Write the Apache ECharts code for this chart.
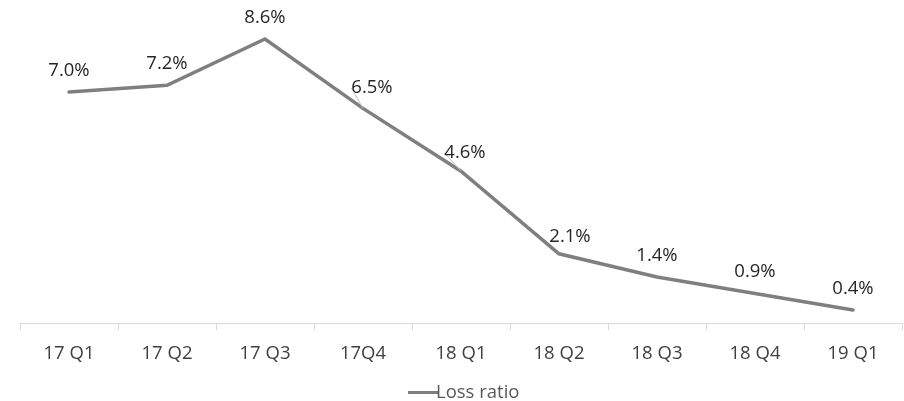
<!DOCTYPE html>
<html>
<head>
<meta charset="utf-8">
<script src="https://cdn.jsdelivr.net/npm/echarts@6/dist/echarts.min.js"></script>
<style>
  html, body { margin: 0; padding: 0; background: #ffffff; }
  #chart { width: 904px; height: 401px; }
</style>
</head>
<body>
<div id="chart"></div>
<script>
// Quarterly loss ratio, in percent
const quarters = ['17 Q1', '17 Q2', '17 Q3', '17Q4', '18 Q1', '18 Q2', '18 Q3', '18 Q4', '19 Q1'];
const lossRatio = [7.0, 7.2, 8.6, 6.5, 4.6, 2.1, 1.4, 0.9, 0.4];

// Labels that sit slightly to the right of their point: index -> [dx, dy]
const labelShift = { 3: [9, 1], 4: [4, 3], 5: [11, 4] };
// Points whose shifted labels get a short guide line
const guided = [3, 4];

const FONT = '"Open Sans", "Noto Sans", sans-serif';

const seriesData = lossRatio.map(function (v, i) {
  const item = { value: v };
  if (guided.indexOf(i) >= 0) {
    item.labelLine = { show: true, lineStyle: { color: '#bfbfbf', width: 1 } };
  }
  return item;
});

const chart = echarts.init(document.getElementById('chart'), null, { renderer: 'canvas' });
chart.setOption({
  animation: false,
  backgroundColor: '#ffffff',
  grid: { left: 20, right: 2, top: 25.8, bottom: 77.8, containLabel: false },
  xAxis: {
    type: 'category',
    data: quarters,
    boundaryGap: true,
    axisLine: { show: true, lineStyle: { color: '#d9d9d9', width: 1 } },
    axisTick: { show: true, length: 7, lineStyle: { color: '#d9d9d9', width: 1 } },
    axisLabel: { color: '#404040', fontSize: 18.5, fontFamily: FONT, margin: 21 }
  },
  yAxis: {
    type: 'value',
    min: 0,
    max: 9,
    show: false,
    splitLine: { show: false }
  },
  legend: {
    data: ['Loss ratio'],
    left: 403,
    top: 378,
    icon: 'rect',
    itemWidth: 30,
    itemHeight: 3,
    itemGap: 0,
    textStyle: { color: '#595959', fontSize: 18.5, fontFamily: FONT, padding: [0, 0, 0, -7] }
  },
  series: [{
    name: 'Loss ratio',
    type: 'line',
    data: seriesData,
    symbol: 'circle',
    symbolSize: 0,
    showSymbol: true,
    lineStyle: { color: '#7f7f7f', width: 3.5, cap: 'round', join: 'miter' },
    itemStyle: { color: '#7f7f7f' },
    label: {
      show: true,
      position: 'top',
      distance: 12,
      color: '#262626',
      fontSize: 18.5,
      fontFamily: FONT,
      formatter: function (p) { return p.value.toFixed(1) + '%'; }
    },
    labelLayout: function (params) {
      const s = labelShift[params.dataIndex];
      if (s) return { dx: s[0], dy: s[1] };
      return {};
    }
  }]
});
</script>
</body>
</html>
